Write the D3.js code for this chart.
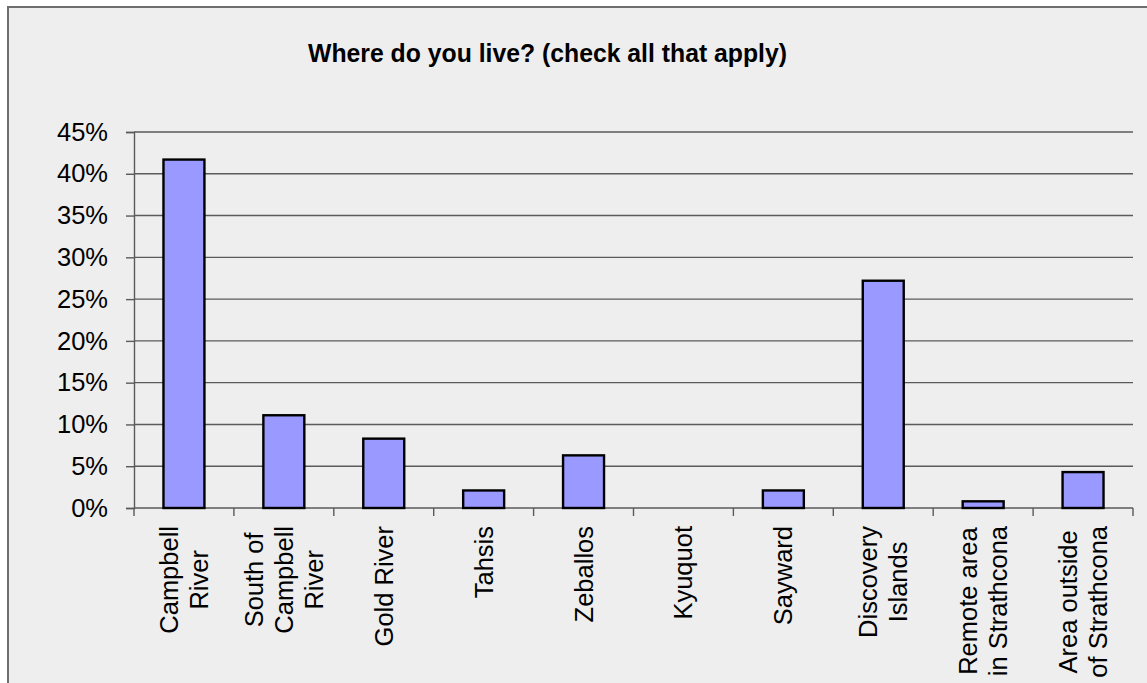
<!DOCTYPE html>
<html>
<head>
<meta charset="utf-8">
<script src="https://cdn.jsdelivr.net/npm/d3@7"></script>
<style>
  html, body { margin: 0; padding: 0; background: #ffffff; }
  svg { display: block; }
  text { font-family: "Liberation Sans", Arial, sans-serif; fill: #000; }
</style>
</head>
<body>
<svg id="chart" width="1147" height="683"></svg>
<script>
// Survey responses: share of respondents per place of residence
const categories = [
  "Campbell River", "South of Campbell River", "Gold River", "Tahsis", "Zeballos",
  "Kyuquot", "Sayward", "Discovery Islands", "Remote area in Strathcona", "Area outside of Strathcona"
];
const labelLines = [
  ["Campbell", "River"],
  ["South of", "Campbell", "River"],
  ["Gold River"],
  ["Tahsis"],
  ["Zeballos"],
  ["Kyuquot"],
  ["Sayward"],
  ["Discovery", "Islands"],
  ["Remote area", "in Strathcona"],
  ["Area outside", "of Strathcona"]
];
const values = [0.417, 0.111, 0.083, 0.021, 0.063, 0, 0.021, 0.272, 0.008, 0.043];
const yTicks = [0, 0.05, 0.10, 0.15, 0.20, 0.25, 0.30, 0.35, 0.40, 0.45];
const title = "Where do you live? (check all that apply)";

const svg = d3.select("#chart");

// chart area panel
svg.append("rect")
  .attr("x", 8).attr("y", 7)
  .attr("width", 1160).attr("height", 700)
  .attr("fill", "#eeeeee")
  .attr("stroke", "#6e6e6e")
  .attr("stroke-width", 2);

const plot = { left: 134, right: 1133, top: 132, bottom: 508 };

const x = d3.scaleBand()
  .domain(categories)
  .range([plot.left, plot.right])
  .paddingInner(0).paddingOuter(0);

const y = d3.scaleLinear()
  .domain([0, 0.45])
  .range([plot.bottom, plot.top]);

// title, set in a slightly condensed bold face
svg.append("text")
  .attr("x", 547.5).attr("y", 62)
  .attr("text-anchor", "middle")
  .attr("font-weight", "bold")
  .attr("font-size", 26.5)
  .attr("textLength", 479)
  .attr("lengthAdjust", "spacingAndGlyphs")
  .text(title);

// horizontal gridlines
svg.append("g")
  .selectAll("line")
  .data(yTicks.filter(d => d > 0))
  .join("line")
  .attr("x1", plot.left).attr("x2", plot.right)
  .attr("y1", d => y(d)).attr("y2", d => y(d))
  .attr("stroke", "#5a5a5a")
  .attr("stroke-width", 1.4);

// y axis
const yAxis = d3.axisLeft(y)
  .tickValues(yTicks)
  .tickFormat(d3.format(".0%"))
  .tickSize(8)
  .tickPadding(18);

const gy = svg.append("g")
  .attr("transform", `translate(${plot.left},0)`)
  .call(yAxis);
gy.select(".domain").attr("stroke", "#5a5a5a").attr("stroke-width", 1.4);
gy.selectAll(".tick line").attr("stroke", "#5a5a5a").attr("stroke-width", 1.4);
gy.selectAll(".tick text")
  .attr("font-size", 25.5)
  .attr("font-family", "Liberation Sans, Arial, sans-serif")
  .attr("fill", "#000");

// x axis baseline with ticks at category boundaries
const boundaries = categories.map(c => x(c)).concat([plot.right]);
svg.append("line")
  .attr("x1", plot.left).attr("x2", plot.right)
  .attr("y1", y(0)).attr("y2", y(0))
  .attr("stroke", "#5a5a5a").attr("stroke-width", 1.4);
svg.append("g")
  .selectAll("line")
  .data(boundaries)
  .join("line")
  .attr("x1", d => d).attr("x2", d => d)
  .attr("y1", y(0)).attr("y2", y(0) + 8)
  .attr("stroke", "#5a5a5a").attr("stroke-width", 1.4);

// bars
const barW = x.bandwidth() * 0.41;
svg.append("g")
  .selectAll("rect")
  .data(values.map((v, i) => ({ c: categories[i], v })).filter(d => d.v > 0))
  .join("rect")
  .attr("x", d => x(d.c) + (x.bandwidth() - barW) / 2)
  .attr("y", d => y(d.v))
  .attr("width", barW)
  .attr("height", d => y(0) - y(d.v))
  .attr("fill", "#9999ff")
  .attr("stroke", "#000")
  .attr("stroke-width", 2.4);

// rotated category labels, lines centred within each label block
const lineGap = 30;
const labelTop = 526;
categories.forEach((c, i) => {
  const lines = labelLines[i];
  const cx = x(c) + x.bandwidth() / 2;
  const g = svg.append("g")
    .attr("transform", `translate(${cx},${labelTop}) rotate(-90)`);
  const texts = g.selectAll("text")
    .data(lines)
    .join("text")
    .attr("font-size", 25.5)
    .attr("text-anchor", "middle")
    .attr("y", (d, j) => (j - (lines.length - 1) / 2) * lineGap + 9)
    .text(d => d);
  let maxLen = 0;
  texts.each(function () { maxLen = Math.max(maxLen, this.getComputedTextLength()); });
  texts.attr("x", -maxLen / 2);
});
</script>
</body>
</html>
